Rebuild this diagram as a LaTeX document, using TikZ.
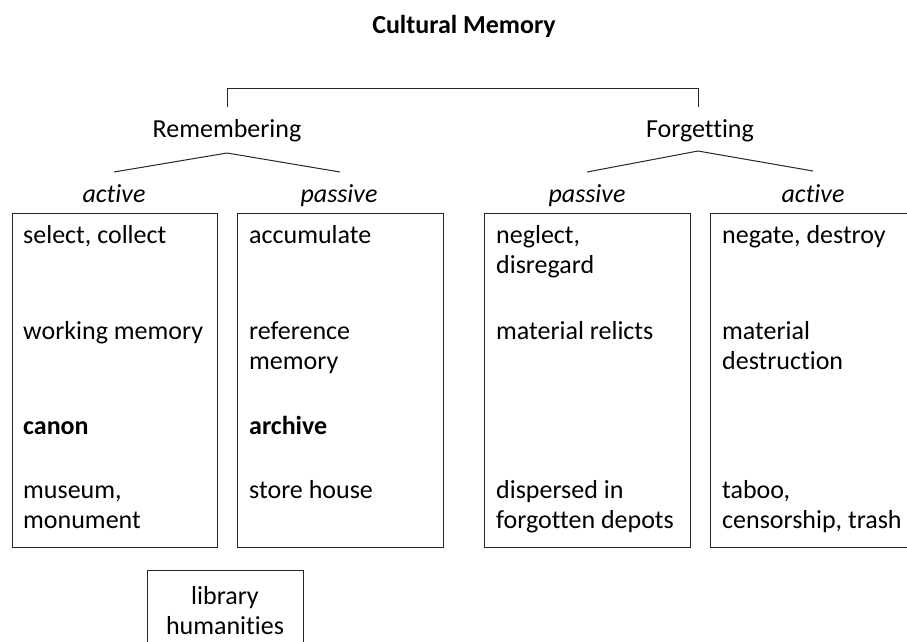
\documentclass[tikz,border=0pt]{standalone}
\usepackage{fontspec}
\setmainfont{Carlito}[Ligatures=CommonOff]
\begin{document}
\begin{tikzpicture}[x=1pt,y=-1pt,
  txt/.style={font=\fontsize{26}{30}\selectfont, inner sep=0pt},
  item/.style={txt, anchor=north west, align=left},
  head/.style={txt, anchor=base},
  kind/.style={txt, anchor=base, font=\fontsize{26}{30}\selectfont\itshape},
  col/.style={draw=black!85, line width=1pt, anchor=north west, inner sep=0pt},
  conn/.style={draw=black!85, line width=1pt}
]
\useasboundingbox (0,0) rectangle (907,641);
\newcommand{\lead}{\rule{0pt}{20pt}}

% title
\node[head, font=\fontsize{26}{30}\selectfont\bfseries] (title) at (464,33) {Cultural Memory};

% level 1
\node[head] (rem) at (227,137) {Remembering};
\node[head] (forg) at (700,137) {Forgetting};
\coordinate (bl) at (227,107);
\coordinate (br) at (698,107);
\draw[conn] (bl) -- (227,88) -- (698,88) -- (br);

% branches
\coordinate (ra) at (227,153);
\coordinate (rl) at (114,172);
\coordinate (rr) at (340,172);
\coordinate (fa) at (698,151);
\coordinate (fl) at (587,172);
\coordinate (fr) at (813,171);
\draw[conn] (rl) -- (ra) -- (rr);
\draw[conn] (fl) -- (fa) -- (fr);

\node[kind] (k1) at (114,202) {active};
\node[kind] (k2) at (339,202) {passive};
\node[kind] (k3) at (587,202) {passive};
\node[kind] (k4) at (813,202) {active};

% columns
\node[col, minimum width=205pt, minimum height=334pt] (c1) at (12,213) {};
\node[col, minimum width=206pt, minimum height=334pt] (c2) at (237,213) {};
\node[col, minimum width=206pt, minimum height=334pt] (c3) at (484,213) {};
\node[col, minimum width=206pt, minimum height=334pt] (c4) at (710,213) {};

% column 1
\node[item] (a1) at (23,223) {\lead select, collect};
\node[item] (a2) at (23,319) {\lead working memory};
\node[item] (a3) at (23,414) {\lead\textbf{canon}};
\node[item] (a4) at (23,478) {\lead museum,\\monument};
% column 2
\node[item] (p1) at (249,223) {\lead accumulate};
\node[item] (p2) at (249,319) {\lead reference\\memory};
\node[item] (p3) at (249,414) {\lead\textbf{archive}};
\node[item] (p4) at (249,478) {\lead store house};
% column 3
\node[item] (q1) at (496,223) {\lead neglect,\\disregard};
\node[item] (q2) at (496,319) {\lead material relicts};
\node[item] (q4) at (496,478) {\lead dispersed in\\forgotten depots};
% column 4
\node[item] (d1) at (722,223) {\lead negate, destroy};
\node[item] (d2) at (722,319) {\lead material\\destruction};
\node[item] (d4) at (722,478) {\lead taboo,\\censorship, trash};

% library
\node[col, minimum width=156pt, minimum height=90pt] (lib) at (147,570) {};
\node[txt, anchor=north, align=center] (libt) at (225,584) {\lead library\\humanities};
\end{tikzpicture}
\end{document}
